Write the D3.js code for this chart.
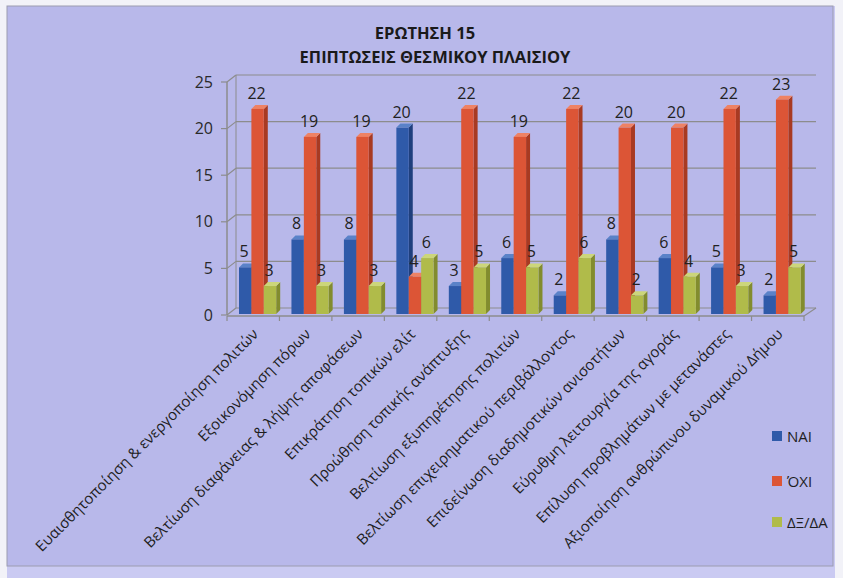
<!DOCTYPE html>
<html>
<head>
<meta charset="utf-8">
<script src="https://cdn.jsdelivr.net/npm/d3@7"></script>
<style>
html,body{margin:0;padding:0;background:#f2f2f8;}
svg{display:block;font-family:"Open Sans","Noto Sans","DejaVu Sans",sans-serif;}
</style>
</head>
<body>
<svg id="chart" width="843" height="578"></svg>
<script>
const titleLines = ["ΕΡΩΤΗΣΗ 15", "ΕΠΙΠΤΩΣΕΙΣ ΘΕΣΜΙΚΟΥ ΠΛΑΙΣΙΟΥ"];
const categories = [
  "Ευαισθητοποίηση & ενεργοποίηση πολιτών",
  "Εξοικονόμηση πόρων",
  "Βελτίωση διαφάνειας & λήψης αποφάσεων",
  "Επικράτηση τοπικών ελίτ",
  "Προώθηση τοπικής ανάπτυξης",
  "Βελτίωση εξυπηρέτησης πολιτών",
  "Βελτίωση επιχειρηματικού περιβάλλοντος",
  "Επιδείνωση διαδημοτικών ανισοτήτων",
  "Εύρυθμη λειτουργία της αγοράς",
  "Επίλυση προβλημάτων με μετανάστες",
  "Αξιοποίηση ανθρώπινου δυναμικού Δήμου"
];
const seriesNames = ["ΝΑΙ", "ΌΧΙ", "ΔΞ/ΔΑ"];
const naiValues  = [5, 8, 8, 20, 3, 6, 2, 8, 6, 5, 2];
const oxiValues  = [22, 19, 19, 4, 22, 19, 22, 20, 20, 22, 23];
const dkValues   = [3, 3, 3, 6, 5, 5, 6, 2, 4, 3, 5];
const yTicks = [0, 5, 10, 15, 20, 25];

const series = [naiValues, oxiValues, dkValues];
const colors = [
  {front:"#2f5aa9", side:"#1f3f7d", top:"#5a82c8"},
  {front:"#dc5536", side:"#a83a22", top:"#ee8264"},
  {front:"#b0bb4a", side:"#828c2e", top:"#ccd67a"}
];

const svg = d3.select("#chart");

// background frame
svg.append("rect").attr("x",7).attr("y",6).attr("width",828).attr("height",572).attr("fill","#cacaf2");
svg.append("rect").attr("x",7).attr("y",6).attr("width",826).attr("height",560)
  .attr("fill","#b8b8ea").attr("stroke","#9c9cb0").attr("stroke-width",1);

// titles
svg.append("text").attr("x",425).attr("y",39).attr("text-anchor","middle")
  .attr("font-weight","bold").attr("font-size",16.5).attr("fill","#1a1a1a").text(titleLines[0]);
svg.append("text").attr("x",435).attr("y",63).attr("text-anchor","middle")
  .attr("font-weight","bold").attr("font-size",16.5).attr("fill","#1a1a1a").text(titleLines[1]);

// scales
const x = d3.scaleBand().domain(d3.range(categories.length)).range([227, 804]).paddingInner(0).paddingOuter(0);
const y = d3.scaleLinear().domain([0, 25]).range([315, 82]);
const dx = 9, dy = -7; // depth offset of back wall
const axisColor = "#8c8c8c";

// back wall gridlines
const g = svg.append("g");
yTicks.forEach(v => {
  g.append("line").attr("x1",227+dx).attr("x2",804+dx+3).attr("y1",y(v)+dy).attr("y2",y(v)+dy)
    .attr("stroke",axisColor).attr("stroke-width",1.2);
  g.append("line").attr("x1",227).attr("y1",y(v)).attr("x2",227+dx).attr("y2",y(v)+dy)
    .attr("stroke",axisColor).attr("stroke-width",1.2);
  g.append("line").attr("x1",221).attr("y1",y(v)).attr("x2",227).attr("y2",y(v))
    .attr("stroke",axisColor).attr("stroke-width",1.2);
});
// left wall back edge & front axis line
g.append("line").attr("x1",227+dx).attr("x2",227+dx).attr("y1",y(0)+dy).attr("y2",y(25)+dy)
  .attr("stroke",axisColor).attr("stroke-width",1);
g.append("line").attr("x1",227).attr("x2",227).attr("y1",y(0)).attr("y2",y(25))
  .attr("stroke",axisColor).attr("stroke-width",1.5);
// floor front line and right diagonal
g.append("line").attr("x1",227).attr("x2",804).attr("y1",y(0)+1).attr("y2",y(0)+1)
  .attr("stroke",axisColor).attr("stroke-width",1.5);
g.append("line").attr("x1",804).attr("x2",804+dx+3).attr("y1",y(0)+1).attr("y2",y(0)+dy)
  .attr("stroke",axisColor).attr("stroke-width",1.2);
// category ticks
d3.range(categories.length + 1).forEach(i => {
  const xx = i < categories.length ? x(i) : x(categories.length-1) + x.bandwidth();
  g.append("line").attr("x1",xx).attr("x2",xx).attr("y1",y(0)+1).attr("y2",y(0)+6)
    .attr("stroke",axisColor).attr("stroke-width",1.2);
});

// y axis labels
yTicks.forEach(v => {
  svg.append("text").attr("x",213).attr("y",y(v)+5.5).attr("text-anchor","end")
    .attr("font-size",16).attr("fill","#2a2a2a").text(v);
});

// bars
const bw = 12.4, d = 4, base = y(0) - 1, offset = 12;
const bars = svg.append("g");
const labels = svg.append("g");
categories.forEach((c, i) => {
  series.forEach((vals, s) => {
    const v = vals[i];
    const x0 = x(i) + offset + s * bw;
    const x1 = x0 + bw;
    const yt = y(v) - 1;
    const col = colors[s];
    bars.append("polygon").attr("points",
      [[x1,yt],[x1+d,yt-d],[x1+d,base-d],[x1,base]].map(p=>p.join(",")).join(" "))
      .attr("fill",col.side);
    bars.append("polygon").attr("points",
      [[x0,yt],[x0+d,yt-d],[x1+d,yt-d],[x1,yt]].map(p=>p.join(",")).join(" "))
      .attr("fill",col.top);
    bars.append("rect").attr("x",x0).attr("y",yt).attr("width",bw).attr("height",base-yt)
      .attr("fill",col.front);
    labels.append("text").attr("x",x0+bw/2-1).attr("y",yt-10).attr("text-anchor","middle")
      .attr("font-size",16).attr("fill","#222").text(v);
  });
});

// category labels
categories.forEach((c, i) => {
  const cx = x(i) + x.bandwidth()/2 + 6;
  svg.append("text").attr("transform",`translate(${cx},${335}) rotate(-45)`)
    .attr("text-anchor","end").attr("font-size",15).attr("fill","#1e1e1e").text(c);
});

// legend
const legY = [431, 476, 517];
seriesNames.forEach((n, s) => {
  svg.append("rect").attr("x",772).attr("y",legY[s]).attr("width",10).attr("height",10)
    .attr("fill",colors[s].front);
  svg.append("text").attr("x",787).attr("y",legY[s]+10.5).attr("font-size",15)
    .attr("fill","#1e1e1e").text(n);
});
</script>
</body>
</html>
